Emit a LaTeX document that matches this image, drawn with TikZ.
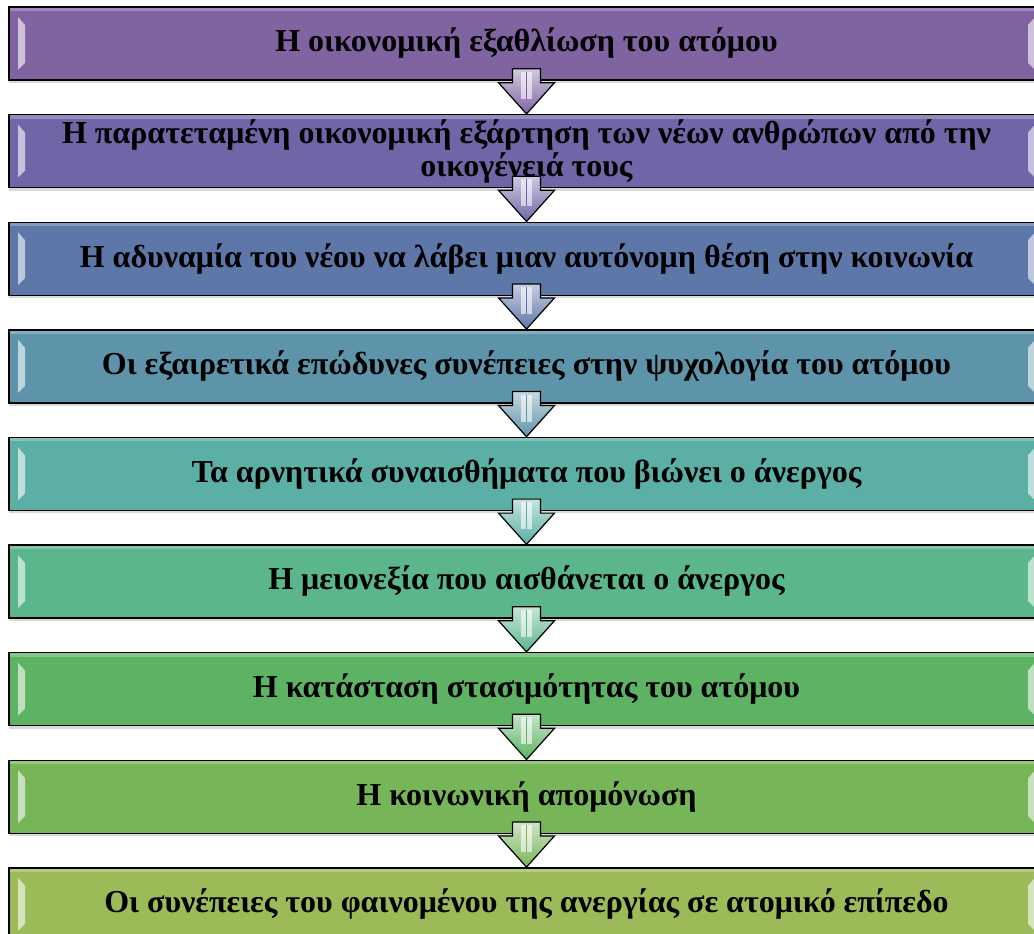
\documentclass[tikz,border=0pt]{standalone}
\usepackage{fontspec}
\setmainfont{Liberation Serif}
\usetikzlibrary{calc,shadows}

\definecolor{tonA}{HTML}{8064A2}
\definecolor{tonB}{HTML}{6F66A8}
\definecolor{tonC}{HTML}{5E77A9}
\definecolor{tonD}{HTML}{5D94AA}
\definecolor{tonE}{HTML}{5BAFA5}
\definecolor{tonF}{HTML}{5CB68B}
\definecolor{tonG}{HTML}{5DB264}
\definecolor{tonH}{HTML}{77B658}
\definecolor{tonI}{HTML}{9BBB59}

\tikzset{
	stage/.style={draw=black, line width=1.4pt, fill=#1, minimum width=1035pt, minimum height=73pt,
		inner sep=0pt, align=center, font=\fontsize{32}{33}\selectfont\bfseries,
		drop shadow={shadow xshift=0pt, shadow yshift=-3pt, opacity=.3},
		path picture={
			\fill[white, opacity=.25] (path picture bounding box.north west) rectangle ($(path picture bounding box.north east)+(0,4)$);
			\fill[white, opacity=.6] ($(path picture bounding box.north west)+(9,10)$) -- ($(path picture bounding box.north west)+(16,18)$) -- ($(path picture bounding box.south west)+(16,-17)$) -- ($(path picture bounding box.south west)+(9,-10)$) -- cycle;
			\fill[white, opacity=.6] ($(path picture bounding box.north east)+(-9,10)$) -- ($(path picture bounding box.north east)+(-16,18)$) -- ($(path picture bounding box.south east)+(-16,-17)$) -- ($(path picture bounding box.south east)+(-9,-10)$) -- cycle;
		}},
	flowarrow/.style={draw=black, line width=1.2pt, line join=miter, top color=#1!35!white, bottom color=#1,
		to path={($(\tikztostart)+(-14,-12)$) -- ($(\tikztostart)+(14,-12)$) -- ($(\tikztostart)+(14,2)$) -- ($(\tikztostart)+(28,2)$) -- (\tikztotarget) -- ($(\tikztostart)+(-28,2)$) -- ($(\tikztostart)+(-14,2)$) -- cycle},
		path picture={
			\fill[white, opacity=.6] ($(path picture bounding box.north)+(-6,3)$) rectangle ($(path picture bounding box.north)+(5,30)$);
			\draw[#1, line width=1.2pt] ($(path picture bounding box.north)+(0,3)$) -- +(0,27);
		}}
}

\begin{document}
\begin{tikzpicture}[x=1pt, y=-1pt]
	\useasboundingbox (0,0) rectangle (1034,934);

	% the chain of stages
	\node[stage=tonA] (stage1) at (526.5,43.5) {Η οικονομική εξαθλίωση του ατόμου};
	\node[stage=tonB] (stage2) at (526.5,151.1) {Η παρατεταμένη οικονομική εξάρτηση των νέων ανθρώπων από την\\οικογένειά τους};
	\node[stage=tonC] (stage3) at (526.5,258.7) {Η αδυναμία του νέου να λάβει μιαν αυτόνομη θέση στην κοινωνία};
	\node[stage=tonD] (stage4) at (526.5,366.3) {Οι εξαιρετικά επώδυνες συνέπειες στην ψυχολογία του ατόμου};
	\node[stage=tonE] (stage5) at (526.5,473.9) {Τα αρνητικά συναισθήματα που βιώνει ο άνεργος};
	\node[stage=tonF] (stage6) at (526.5,581.5) {Η μειονεξία που αισθάνεται ο άνεργος};
	\node[stage=tonG] (stage7) at (526.5,689.1) {Η κατάσταση στασιμότητας του ατόμου};
	\node[stage=tonH] (stage8) at (526.5,796.7) {Η κοινωνική απομόνωση};
	\node[stage=tonI] (stage9) at (526.5,904.3) {Οι συνέπειες του φαινομένου της ανεργίας σε ατομικό επίπεδο};

	% arrows between stages
	\draw[flowarrow=tonA] (stage1.south) to (stage2.north);
	\draw[flowarrow=tonB] (stage2.south) to (stage3.north);
	\draw[flowarrow=tonC] (stage3.south) to (stage4.north);
	\draw[flowarrow=tonD] (stage4.south) to (stage5.north);
	\draw[flowarrow=tonE] (stage5.south) to (stage6.north);
	\draw[flowarrow=tonF] (stage6.south) to (stage7.north);
	\draw[flowarrow=tonG] (stage7.south) to (stage8.north);
	\draw[flowarrow=tonH] (stage8.south) to (stage9.north);
\end{tikzpicture}
\end{document}
